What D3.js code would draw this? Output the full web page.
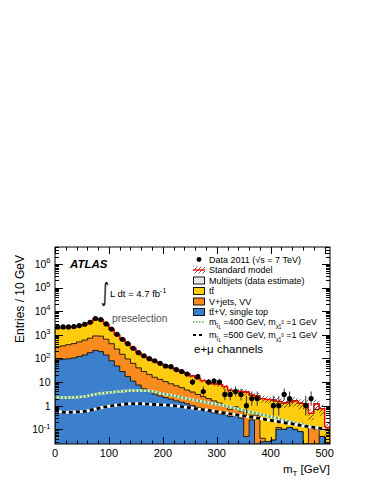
<!DOCTYPE html>
<html>
<head>
<meta charset="utf-8">
<script src="https://cdn.jsdelivr.net/npm/d3@7"></script>
<style>
body { margin: 0; background: #fff; }
svg { font-family: "Liberation Sans", Arial, Helvetica, sans-serif; }
</style>
</head>
<body>
<svg id="chart" width="374" height="484"></svg>
<script>
//Bins of 10 GeV (low edges)
var binLow = [0,10,20,30,40,50,60,70,80,90,100,110,120,130,140,150,160,170,180,190,
    200,210,220,230,240,250,260,270,280,290,300,310,320,330,340,350,360,370,380,390,
    400,410,420,430,440,450,460,470,480,490,500];
var binWidth = 10;

//Backgrounds, entries per bin (stacked bottom to top)
var singleTop = [88,92,97,105,120,140,175,220,195,140,
    80,48,28,17,11,7.5,5.2,3.9,3.1,2.6,
    2.2,1.9,1.6,1.4,1.2,1.0,0.85,0.7,0.6,0.5,
    0.45,0.42,0.35,0.4,0.3,0.05,0.25,0,0.03,0.03,
    0.035,0.1,0.1,0.12,0.1,0.08,0,0,0,0.05,0];
var vJets = [227,250,285,320,380,460,545,680,685,510,
    340,202,122,78,51,32.5,22.8,17.1,12.9,10.4,
    8.3,6.6,5.4,4.4,3.4,2.8,2.15,1.7,1.4,1.1,
    0.85,0.58,0.35,0.5,0.3,0.3,0.15,0.4,0.012,0,
    0,0.02,0,0,0,0,0,0.12,0.1,0,0];
var ttbar = [1665,1640,1650,1730,1860,2080,2560,3800,3400,2100,
    1250,760,497,323,207,134,96.5,73.5,58.7,46.8,
    39.3,33.3,27,22.2,18.4,14.2,11,9.1,7.5,6.9,
    6.7,5.5,3.8,3.4,3.4,3.45,2.4,2.2,1.95,1.8,
    1.7,1.4,1.2,1.3,1.5,1.2,1.2,0.35,0.6,0.7,0.12];
var multijet = [20,20,20,20,20,20,20,20,20,20,
    10,5,3,2,1,1,0.5,0.5,0.3,0.2,
    0.2,0.2,0,0,0,0,0,0,0,0,
    0,0,0,0,0,0,0,0,0,0,
    0,0,0,0,0,0,0,0,0.5,0,0];
//Relative uncertainty of the SM total
var smRelErr = [0.06,0.06,0.06,0.06,0.06,0.06,0.06,0.06,0.06,0.06,
    0.08,0.08,0.09,0.09,0.1,0.1,0.11,0.11,0.12,0.12,
    0.13,0.13,0.14,0.14,0.15,0.15,0.16,0.17,0.18,0.19,
    0.2,0.22,0.24,0.25,0.26,0.28,0.3,0.3,0.32,0.34,
    0.36,0.38,0.4,0.4,0.42,0.45,0.48,0.5,0.5,0.5,0.55];

//Data 2011 (0 = empty bin)
var data2011 = [2150,2150,2150,2250,2450,2800,3400,4900,4400,2900,
    1750,1050,650,420,270,175,130,98,80,62,
    48,45,34,28,22,10,17,4,10,11,
    10,3,3,4,3,1,2,2,0,0,
    1,1,3,2,0,0,1,2,0,0,0];

//Signal curves
var sigX = [0,20,40,60,80,100,120,140,160,180,200,220,240,260,280,300,320,340,360,380,400,420,440,460,480,500];
var stop400 = [2.3,2.2,2.3,2.6,3.2,3.6,4.0,4.4,4.4,4.1,3.2,2.7,2.1,1.7,1.4,1.15,0.92,0.72,0.55,0.44,0.34,0.26,0.2,0.155,0.12,0.095];
var stop500 = [0.62,0.52,0.55,0.6,0.78,0.95,1.1,1.22,1.22,1.15,1.08,1.0,0.88,0.76,0.66,0.56,0.47,0.4,0.34,0.29,0.24,0.2,0.17,0.14,0.12,0.105];

//Axis ticks
var xMajor = [0,100,200,300,400,500];
var xMinor = [20,40,60,80,120,140,160,180,220,240,260,280,320,340,360,380,420,440,460,480];
var yMajor = [0.1,1,10,100,1000,10000,100000,1000000];
var yLabels = [["10","-1"],["1",""],["10",""],["10","2"],["10","3"],["10","4"],["10","5"],["10","6"]];

var colors = {blue: "#3c7fcc", vjets: "#f98b1e", ttbar: "#ffcc10", mj: "#e8e8e8"};

var L = 55, R = 330, T = 247, B = 444;
var x = d3.scaleLinear().domain([0, 510]).range([L, R]);
var y = d3.scaleLog().domain([0.024, 5.2e6]).range([B, T]).clamp(true);
function yv(v) { return y(Math.max(v, 1e-4)); }

var svg = d3.select("#chart");
var defs = svg.append("defs");
defs.append("clipPath").attr("id", "plotclip")
    .append("rect").attr("x", L).attr("y", T).attr("width", R - L).attr("height", B - T);
var hatch = defs.append("pattern").attr("id", "hatch")
    .attr("patternUnits", "userSpaceOnUse").attr("width", 4).attr("height", 4);
hatch.append("path").attr("d", "M-1,1 l2,-2 M0,4 l4,-4 M3,5 l2,-2")
    .attr("stroke", "#000").attr("stroke-width", 0.6);

var plot = svg.append("g").attr("clip-path", "url(#plotclip)");

//Build stack
var rows = binLow.map(function(b, i) {
    return {x: b, blue: singleTop[i], vjets: vJets[i], ttbar: ttbar[i], mj: multijet[i]};
});
var stack = d3.stack().keys(["blue", "vjets", "ttbar", "mj"])(rows);

function stepPoints(vals) {
    var p = vals.map(function(v, i) { return [binLow[i], v]; });
    p.push([binLow[binLow.length - 1] + binWidth, vals[vals.length - 1]]);
    return p;
}
var area = d3.area().curve(d3.curveStepAfter)
    .x(function(d) { return x(d[0]); })
    .y0(B + 2)
    .y1(function(d) { return yv(d[1]); });
var stepLine = d3.line().curve(d3.curveStepAfter)
    .x(function(d) { return x(d[0]); })
    .y(function(d) { return yv(d[1]); });

//Draw filled histograms, top of stack first
stack.slice().reverse().forEach(function(s) {
    var tops = s.map(function(d) { return d[1]; });
    plot.append("path")
        .attr("d", area(stepPoints(tops)))
        .attr("fill", colors[s.key])
        .attr("stroke", "#111")
        .attr("stroke-width", 0.9);
});

//SM total with hatched uncertainty band
var total = stack[3].map(function(d) { return d[1]; });
var band = d3.area().curve(d3.curveStepAfter)
    .x(function(d) { return x(d[0]); })
    .y0(function(d) { return yv(d[1] * (1 - d[2])); })
    .y1(function(d) { return yv(d[1] * (1 + d[2])); });
var bandPts = stepPoints(total).map(function(p, i) {
    return [p[0], p[1], smRelErr[Math.min(i, smRelErr.length - 1)]];
});
plot.append("path").attr("d", band(bandPts)).attr("fill", "url(#hatch)");
plot.append("path").attr("d", stepLine(stepPoints(total)))
    .attr("fill", "none").attr("stroke", "#ff0000").attr("stroke-width", 1.3);

//Signal curves (white underlay + dashes)
var sigLine = d3.line().curve(d3.curveMonotoneX)
    .x(function(d, i) { return x(sigX[i]); })
    .y(function(d) { return yv(d); });
plot.append("path").attr("d", sigLine(stop400))
    .attr("fill", "none").attr("stroke", "#f4f8f0").attr("stroke-width", 2.6);
plot.append("path").attr("d", sigLine(stop400))
    .attr("fill", "none").attr("stroke", "#5fa85f").attr("stroke-width", 2.6)
    .attr("stroke-dasharray", "2.2,1.6");
plot.append("path").attr("d", sigLine(stop500))
    .attr("fill", "none").attr("stroke", "#fff").attr("stroke-width", 2.8);
plot.append("path").attr("d", sigLine(stop500))
    .attr("fill", "none").attr("stroke", "#000").attr("stroke-width", 2.8)
    .attr("stroke-dasharray", "4,3");

//Data points with Poisson-like errors
var pts = data2011.map(function(n, i) { return {x: binLow[i] + binWidth / 2, n: n}; })
    .filter(function(d) { return d.n > 0; });
plot.selectAll("line.err").data(pts).enter().append("line")
    .attr("class", "err")
    .attr("x1", function(d) { return x(d.x); })
    .attr("x2", function(d) { return x(d.x); })
    .attr("y1", function(d) { return yv(d.n + 0.5 - Math.sqrt(d.n + 0.25)); })
    .attr("y2", function(d) { return yv(d.n + 0.5 + Math.sqrt(d.n + 0.25)); })
    .attr("stroke", "#333").attr("stroke-width", 1);
plot.selectAll("circle.dat").data(pts).enter().append("circle")
    .attr("class", "dat")
    .attr("cx", function(d) { return x(d.x); })
    .attr("cy", function(d) { return y(d.n); })
    .attr("r", 2.6).attr("fill", "#000");

//Frame and ticks
var axes = svg.append("g").attr("stroke", "#000").attr("stroke-width", 1);
axes.append("rect").attr("x", L).attr("y", T).attr("width", R - L).attr("height", B - T)
    .attr("fill", "none");
y.ticks().forEach(function(v) {
    var major = yMajor.indexOf(v) >= 0 || Math.abs(Math.log10(v) - Math.round(Math.log10(v))) < 1e-9;
    var len = major ? 8 : 4;
    var yy = Math.round(y(v)) + 0.5;
    if (yy <= T || yy >= B) return;
    axes.append("line").attr("x1", L).attr("x2", L + len).attr("y1", yy).attr("y2", yy);
    axes.append("line").attr("x1", R).attr("x2", R - len).attr("y1", yy).attr("y2", yy);
});
xMajor.concat(xMinor).forEach(function(v) {
    var len = xMajor.indexOf(v) >= 0 ? 7 : 3.5;
    var xx = Math.round(x(v)) + 0.5;
    axes.append("line").attr("x1", xx).attr("x2", xx).attr("y1", B).attr("y2", B - len);
    axes.append("line").attr("x1", xx).attr("x2", xx).attr("y1", T).attr("y2", T + len);
});

//Tick labels
svg.selectAll("text.xl").data(xMajor).enter().append("text")
    .attr("class", "xl")
    .attr("x", function(d) { return x(d); })
    .attr("y", 457)
    .attr("text-anchor", "middle")
    .attr("font-size", 11)
    .text(function(d) { return d; });
yMajor.forEach(function(v, i) {
    var t = svg.append("text").attr("x", 50.5).attr("y", y(v) + 3.8)
        .attr("text-anchor", "end").attr("font-size", 10.5);
    t.append("tspan").text(yLabels[i][0]);
    if (yLabels[i][1]) t.append("tspan").attr("dy", -4.5).attr("font-size", 7.5).text(yLabels[i][1]);
});

//Axis titles
svg.append("text").attr("transform", "translate(23.5,255) rotate(-90)")
    .attr("text-anchor", "end").attr("font-size", 12).text("Entries / 10 GeV");
var xt = svg.append("text").attr("x", 330).attr("y", 473)
    .attr("text-anchor", "end").attr("font-size", 11.5);
xt.append("tspan").text("m");
xt.append("tspan").attr("dy", 3).attr("font-size", 8).text("T");
xt.append("tspan").attr("dy", -3).text(" [GeV]");

//Labels in the plot
svg.append("text").attr("x", 70).attr("y", 267.5)
    .attr("font-size", 11.5).attr("font-weight", "bold").attr("font-style", "italic")
    .text("ATLAS");
svg.append("text").attr("transform", "translate(101,301) scale(1,1.7)")
    .attr("font-size", 15).attr("font-family", "DejaVu Sans").text("\u222B");
var lumi = svg.append("text").attr("x", 110).attr("y", 297).attr("font-size", 9.5);
lumi.append("tspan").text("L dt = 4.7 fb");
lumi.append("tspan").attr("dy", -4).attr("font-size", 7).text("-1");
svg.append("text").attr("x", 112).attr("y", 322).attr("font-size", 10.3)
    .attr("fill", "#555").text("preselection");
svg.append("text").attr("x", 194).attr("y", 352.5).attr("font-size", 11.5)
    .text("e+\u03BC channels");

//Legend
var lx = 193, tx = 209;
var legend = svg.append("g").attr("font-size", 9);
function legText(yc) {
    return legend.append("text").attr("x", tx).attr("y", yc + 3.2);
}
//Data
legend.append("circle").attr("cx", lx + 6).attr("cy", 259.5).attr("r", 2.4).attr("fill", "#000");
legText(259.5).text("Data 2011 (\u221As = 7 TeV)");
//Standard model
legend.append("rect").attr("x", lx).attr("y", 266.5).attr("width", 12).attr("height", 7)
    .attr("fill", "url(#hatch)");
legend.append("line").attr("x1", lx).attr("x2", lx + 12).attr("y1", 270).attr("y2", 270)
    .attr("stroke", "#ff0000").attr("stroke-width", 1.3);
legText(270).text("Standard model");
//Filled boxes
var boxes = [
    {y: 280.5, c: colors.mj, t: "Multijets (data estimate)"},
    {y: 291, c: colors.ttbar, t: "tt\u0304"},
    {y: 301.5, c: colors.vjets, t: "V+jets, VV"},
    {y: 312, c: colors.blue, t: "tt\u0304+V, single top"}
];
boxes.forEach(function(b) {
    legend.append("rect").attr("x", lx + 0.5).attr("y", b.y - 3.5).attr("width", 11).attr("height", 7)
        .attr("fill", b.c).attr("stroke", "#000").attr("stroke-width", 0.9);
    legText(b.y).text(b.t);
});
//Signal entries
function sigText(yc, mass) {
    var t = legText(yc);
    t.append("tspan").text("m");
    t.append("tspan").attr("dy", 2.5).attr("font-size", 6).text("t\u0303");
    t.append("tspan").attr("dy", 1.5).attr("font-size", 4.5).text("1");
    t.append("tspan").attr("dy", -4).text(" =" + mass + " GeV, m");
    t.append("tspan").attr("dy", 2.5).attr("font-size", 6).text("\u03C7\u0303");
    t.append("tspan").attr("dy", 1.5).attr("font-size", 4.5).text("1");
    t.append("tspan").attr("dy", -5).attr("font-size", 4.5).text("0");
    t.append("tspan").attr("dy", 1).text(" =1 GeV");
}
legend.append("line").attr("x1", lx).attr("x2", lx + 12).attr("y1", 322).attr("y2", 322)
    .attr("stroke", "#5fa85f").attr("stroke-width", 1.6).attr("stroke-dasharray", "1.6,1.4");
sigText(322, 400);
legend.append("line").attr("x1", lx).attr("x2", lx + 12).attr("y1", 335).attr("y2", 335)
    .attr("stroke", "#000").attr("stroke-width", 2.2).attr("stroke-dasharray", "3,3");
sigText(335, 500);
</script>
</body>
</html>
